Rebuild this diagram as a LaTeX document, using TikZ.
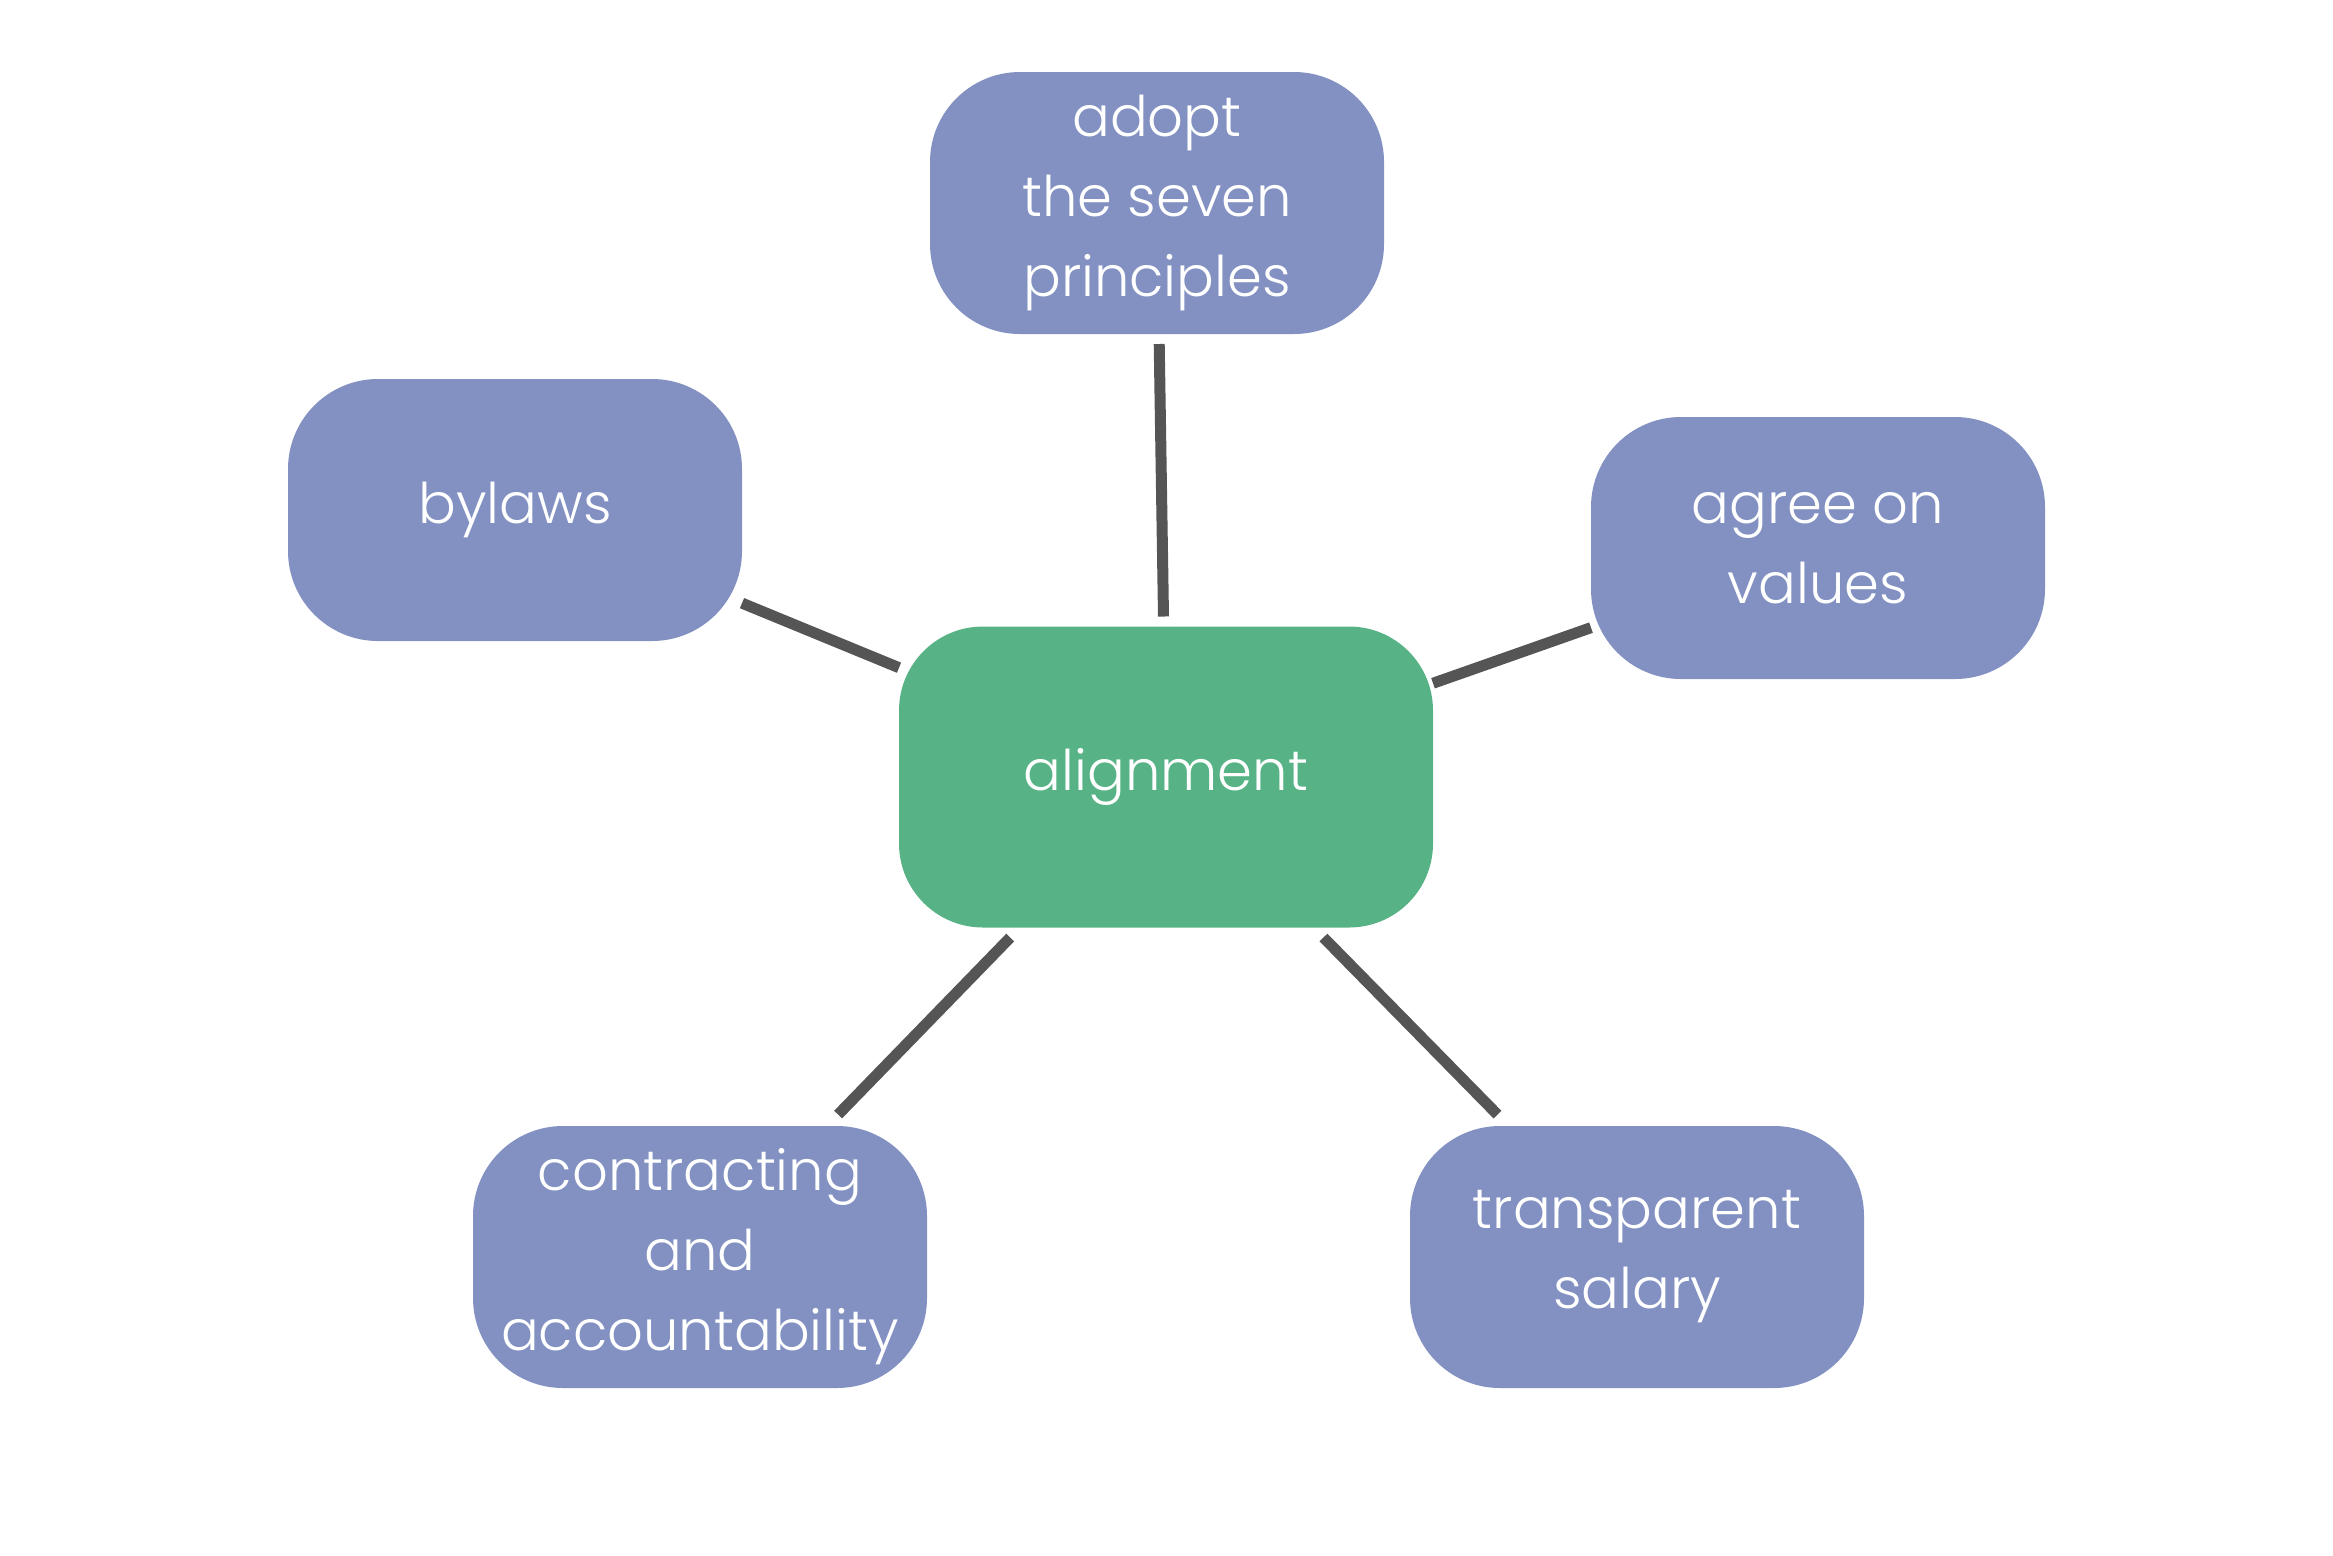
\documentclass[tikz,border=0pt]{standalone}
\usepackage{fontspec}
\setmainfont{Poppins}[UprightFont=*-Light]
\definecolor{boxblue}{RGB}{130,145,194}
\definecolor{boxgreen}{RGB}{87,179,133}
\definecolor{linkgray}{RGB}{85,85,85}
\begin{document}
\begin{tikzpicture}[x=0.5pt,y=-0.5pt,
  outer box/.style={rectangle, rounded corners=45pt, fill=boxblue, text=white,
    minimum width=227pt, minimum height=131pt, inner sep=0pt, outer sep=0pt,
    align=center, font=\fontsize{28}{40}\selectfont},
  center box/.style={outer box, fill=boxgreen, rounded corners=42pt,
    minimum width=267pt, minimum height=150.5pt},
  link/.style={draw=linkgray, line width=5.5pt, line cap=butt}]
\useasboundingbox (0,0) rectangle (2333,1555);
\node[outer box] (adopt) at (1157,203) {adopt\\the seven\\principles};
\node[outer box] (bylaws) at (515,510) {bylaws};
\node[outer box] (values) at (1818,548) {agree on\\values};
\node[center box] (align) at (1166,777) {alignment};
\node[outer box] (contract) at (700,1257) {contracting\\and\\accountability};
\node[outer box] (salary) at (1637,1257) {transparent\\salary};
\draw[link, shorten <=5pt, shorten >=5pt] (adopt) -- (align);
\draw[link] (bylaws) -- (align);
\draw[link] (values) -- (align);
\draw[link, shorten <=8pt, shorten >=7pt] (contract) -- (align);
\draw[link, shorten <=8pt, shorten >=7pt] (salary) -- (align);
\end{tikzpicture}
\end{document}
